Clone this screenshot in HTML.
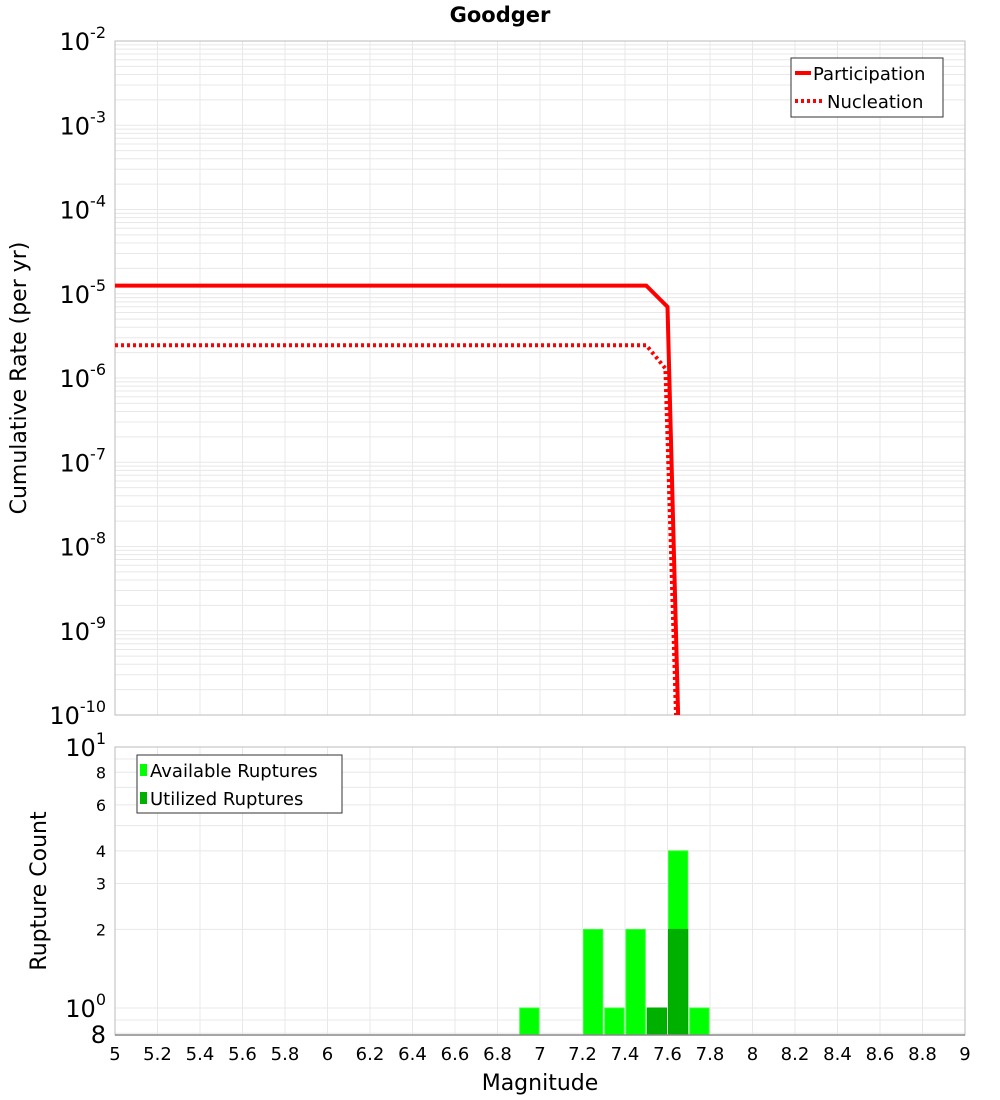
<!DOCTYPE html>
<html><head><meta charset="utf-8"><style>body{margin:0;background:#fff}svg{display:block;font-family:"DejaVu Sans","Liberation Sans",sans-serif}</style></head>
<body>
<svg id="c" width="1000" height="1100"></svg>
<script>
const partMags=[5,7.5,7.6,7.65];
const partRates=[1.25e-5,1.25e-5,7e-6,1e-10];
const nuclMags=[5,7.5,7.59,7.64];
const nuclRates=[2.45e-6,2.45e-6,1.3e-6,1e-10];
const binCenters=[6.95,7.25,7.35,7.45,7.55,7.65,7.75];
const availCounts=[1,2,1,2,1,4,1];
const usedCounts=[0,0,0,0,1,2,0];
const xTicks=[5,5.2,5.4,5.6,5.8,6,6.2,6.4,6.6,6.8,7,7.2,7.4,7.6,7.8,8,8.2,8.4,8.6,8.8,9];
const topExps=[-2,-3,-4,-5,-6,-7,-8,-9,-10];
const botTicks=[2,3,4,6,8];

const S=document.getElementById('c');const NS='http://www.w3.org/2000/svg';
function mk(t,a,p){const e=document.createElementNS(NS,t);for(const k in a)e.setAttribute(k,a[k]);(p||S).appendChild(e);return e;}
const X0=115,X1=965;
const xs=m=>X0+(m-5)/4*(X1-X0);
const T0=41,T1=715;
const ys=r=>T0+(-2-Math.log10(r))/8*(T1-T0);
const B0=747,B1=1035;
const yb=v=>1008-(Math.log10(v))*261;

let t=mk('text',{x:500,y:22,'text-anchor':'middle','font-size':21,'font-weight':'bold'});t.textContent='Goodger';


let g=mk('g',{});
for(let e=-10;e<-2;e++)for(let k=1;k<10;k++){const y=ys(k*Math.pow(10,e));mk('line',{x1:X0,x2:X1,y1:y,y2:y,stroke:'#e8e8e8','stroke-width':1},g);}
xTicks.forEach(m=>{mk('line',{x1:xs(m),x2:xs(m),y1:T0,y2:T1,stroke:'#e8e8e8'},g);});
mk('rect',{x:X0,y:T0,width:X1-X0,height:T1-T0,fill:'none',stroke:'#bbb'},g);
topExps.forEach(e=>{const y=ys(Math.pow(10,e));const tx=mk('text',{x:106,y:y+9,'text-anchor':'end','font-size':24},g);tx.innerHTML='10<tspan dy="-12" font-size="16">'+e+'</tspan>';
});
t=mk('text',{x:0,y:0,transform:'translate(26,378) rotate(-90)','text-anchor':'middle','font-size':22});t.textContent='Cumulative Rate (per yr)';


const clip=mk('clipPath',{id:'cp'});mk('rect',{x:X0,y:T0,width:X1-X0,height:T1-T0},clip);
let p=mk('polyline',{points:partMags.map((m,i)=>xs(m)+','+ys(partRates[i])).join(' '),fill:'none',stroke:'#f00','stroke-width':4,'clip-path':'url(#cp)'});

p=mk('polyline',{points:nuclMags.map((m,i)=>xs(m)+','+ys(nuclRates[i])).join(' '),fill:'none',stroke:'#f00','stroke-width':4,'stroke-dasharray':'3,3','clip-path':'url(#cp)'});


let lg=mk('g',{});
mk('rect',{x:791,y:58,width:152,height:59,fill:'#fff',stroke:'#333'},lg);
mk('line',{x1:795,x2:811,y1:73,y2:73,stroke:'#f00','stroke-width':4},lg);
mk('line',{x1:795,x2:823,y1:101,y2:101,stroke:'#f00','stroke-width':4,'stroke-dasharray':'3,3'},lg);
t=mk('text',{x:813,y:80,'font-size':18},lg);t.textContent='Participation';
t=mk('text',{x:827,y:108,'font-size':18},lg);t.textContent='Nucleation';

let gb=mk('g',{});
[0.8,0.9,1,2,3,4,5,6,7,8,9,10].forEach(v=>{const y=yb(v);mk('line',{x1:X0,x2:X1,y1:y,y2:y,stroke:'#e8e8e8'},gb);});
xTicks.forEach(m=>{mk('line',{x1:xs(m),x2:xs(m),y1:B0,y2:B1,stroke:'#e8e8e8'},gb);});
binCenters.forEach((c,i)=>{const x=xs(c-0.05)+1,w=xs(c+0.05)-xs(c-0.05)-2;
let r=mk('rect',{x:x,y:yb(availCounts[i]),width:w,height:B1-yb(availCounts[i]),fill:'#00ff00',stroke:'#33ff33'},gb);

if(usedCounts[i]>0){r=mk('rect',{x:x,y:yb(usedCounts[i]),width:w,height:B1-yb(usedCounts[i]),fill:'#00b000',stroke:'#00a800'},gb);
}});
mk('rect',{x:X0,y:B0,width:X1-X0,height:B1-B0,fill:'none',stroke:'#bbb'},gb);
mk('line',{x1:X0,x2:X1,y1:B1,y2:B1,stroke:'#888','stroke-width':1.5},gb);
t=mk('text',{x:106,y:yb(10)+9,'text-anchor':'end','font-size':24},gb);t.innerHTML='10<tspan dy="-12" font-size="16">1</tspan>';
t=mk('text',{x:106,y:yb(1)+9,'text-anchor':'end','font-size':24},gb);t.innerHTML='10<tspan dy="-12" font-size="16">0</tspan>';
t=mk('text',{x:106,y:B1+8,'text-anchor':'end','font-size':24},gb);t.textContent='8';
botTicks.forEach(v=>{const tx=mk('text',{x:106,y:yb(v)+6,'text-anchor':'end','font-size':16},gb);tx.textContent=v;
});
t=mk('text',{x:0,y:0,transform:'translate(46,891) rotate(-90)','text-anchor':'middle','font-size':22});t.textContent='Rupture Count';

xTicks.forEach(m=>{const tx=mk('text',{x:xs(m),y:1060,'text-anchor':'middle','font-size':18});tx.textContent=String(m);
});
t=mk('text',{x:540,y:1090,'text-anchor':'middle','font-size':22});t.textContent='Magnitude';


lg=mk('g',{});
mk('rect',{x:137,y:755,width:205,height:58,fill:'#fff',stroke:'#333'},lg);
mk('rect',{x:140,y:764,width:7,height:12,fill:'#00ff00'},lg);
mk('rect',{x:140,y:792,width:7,height:12,fill:'#00b000'},lg);
t=mk('text',{x:150,y:777,'font-size':18},lg);t.textContent='Available Ruptures';
t=mk('text',{x:150,y:805,'font-size':18},lg);t.textContent='Utilized Ruptures';
</script>
</body></html>
